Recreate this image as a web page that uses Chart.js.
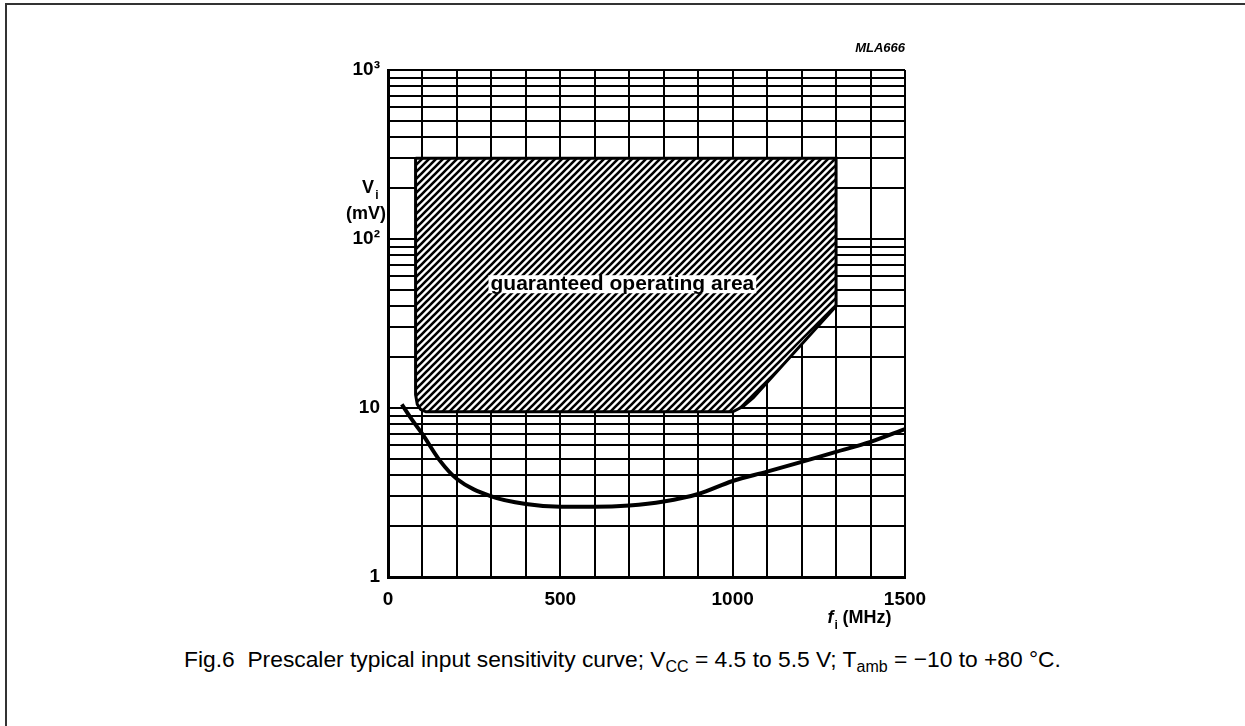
<!DOCTYPE html>
<html>
<head>
<meta charset="utf-8">
<script src="https://cdn.jsdelivr.net/npm/chart.js@4.4.1/dist/chart.umd.min.js"></script>
<style>
  html, body { margin: 0; padding: 0; background: #fff; }
  body { width: 1245px; height: 726px; position: relative; overflow: hidden; font-family: "Liberation Sans", Arial, sans-serif; }
  #frame { position: absolute; left: 5px; top: 3px; width: 1245px; height: 726px; border-top: 2px solid #333; border-left: 2px solid #333; }
  #wrap { position: absolute; left: 0; top: 0; width: 1245px; height: 640px; }
  #caption { position: absolute; top: 646px; left: 0; width: 1245px; text-align: center; font-size: 22.8px; color: #000; }
  #caption sub { font-size: 16px; vertical-align: -5px; line-height: 0; }
</style>
</head>
<body>
<div id="frame"></div>
<div id="wrap"><canvas id="myChart" width="1245" height="640"></canvas></div>
<div id="caption">Fig.6&nbsp; Prescaler typical input sensitivity curve; V<sub>CC</sub> = 4.5 to 5.5 V; T<sub>amb</sub> = &minus;10 to +80 &deg;C.</div>
<script>
// typical sensitivity curve (MHz, mV)
const curveF = [40, 70, 100, 150, 200, 300, 400, 500, 600, 700, 800, 900, 1000, 1100, 1200, 1300, 1400, 1500];
const curveV = [10.5, 8.5, 7, 4.9, 3.8, 3.0, 2.7, 2.6, 2.6, 2.65, 2.8, 3.1, 3.7, 4.2, 4.8, 5.5, 6.3, 7.5];

// guaranteed operating area outline (MHz, mV)
const areaF = [80, 1300, 1300, 1060, 1030, 1000, 110, 95, 85, 80, 80];
const areaV = [300, 300, 40, 11.5, 10.2, 9.5, 9.5, 9.8, 10.5, 12, 300];

// axis ticks
const yTicks = [1, 2, 3, 4, 5, 6, 7, 8, 9, 10, 20, 30, 40, 50, 60, 70, 80, 90, 100, 200, 300, 400, 500, 600, 700, 800, 900, 1000];
const yLabels = { 1: "1", 10: "10", 100: "10\u00b2", 1000: "10\u00b3" };
const xLabels = [0, 500, 1000, 1500];

function hatch() {
    const n = 7;
    const c = document.createElement("canvas");
    c.width = n;
    c.height = n;
    const g = c.getContext("2d");
    g.fillStyle = "#fff";
    g.fillRect(0, 0, n, n);
    g.strokeStyle = "#000";
    g.lineWidth = 2.6;
    g.beginPath();
    g.moveTo(-1, 1); g.lineTo(1, -1);
    g.moveTo(0, n); g.lineTo(n, 0);
    g.moveTo(n - 1, n + 1); g.lineTo(n + 1, n - 1);
    g.stroke();
    return g.createPattern(c, "repeat");
}

const FONT = "'Liberation Sans', Arial, sans-serif";

const notes = {
    id: "notes",
    afterDatasetsDraw(chart) {
        const { ctx, chartArea } = chart;
        const x = chart.scales.x, y = chart.scales.y;
        ctx.save();

        // label inside hatched area
        ctx.font = "bold 21px " + FONT;
        ctx.textAlign = "center";
        ctx.textBaseline = "middle";
        const tx = x.getPixelForValue(680), ty = y.getPixelForValue(54);
        const w = ctx.measureText("guaranteed operating area").width;
        ctx.fillStyle = "#fff";
        ctx.fillRect(tx - w / 2 - 2, ty - 9, w + 4, 18);
        ctx.fillStyle = "#000";
        ctx.fillText("guaranteed operating area", tx, ty);

        // y title
        ctx.font = "bold 18px " + FONT;
        ctx.textAlign = "center";
        ctx.fillText("V", chartArea.left - 20, 188);
        ctx.font = "bold 12px " + FONT;
        ctx.fillText("i", chartArea.left - 11, 196);
        ctx.font = "bold 18px " + FONT;
        ctx.fillText("(mV)", chartArea.left - 22, 214);

        // x title
        const fx = x.getPixelForValue(1275), fy = chartArea.bottom + 41;
        ctx.textAlign = "left";
        ctx.font = "bold italic 18px " + FONT;
        ctx.fillText("f", fx, fy);
        ctx.font = "bold 12px " + FONT;
        ctx.fillText("i", fx + 7, fy + 8);
        ctx.font = "bold 18px " + FONT;
        ctx.fillText("(MHz)", fx + 15, fy);

        // figure code
        ctx.textAlign = "right";
        ctx.font = "bold italic 13px " + FONT;
        ctx.fillText("MLA666", chartArea.right, chartArea.top - 22);
        ctx.restore();
    }
};

const data = {
    datasets: [
        {
            label: "guaranteed operating area",
            data: areaF.map((f, i) => ({ x: f, y: areaV[i] })),
            showLine: true,
            borderColor: "#000",
            borderWidth: 3,
            backgroundColor: hatch(),
            fill: "shape",
            pointRadius: 0,
            tension: 0,
        },
        {
            label: "typical",
            data: curveF.map((f, i) => ({ x: f, y: curveV[i] })),
            showLine: true,
            borderColor: "#000",
            borderWidth: 4,
            fill: false,
            pointRadius: 0,
            cubicInterpolationMode: "monotone",
        },
    ],
};

const config = {
    type: "scatter",
    data: data,
    options: {
        responsive: false,
        animation: false,
        events: [],
        layout: { padding: { left: 338, top: 70, right: 340, bottom: 29 } },
        plugins: { legend: { display: false }, tooltip: { enabled: false } },
        scales: {
            x: {
                type: "linear",
                min: 0,
                max: 1500,
                afterFit: (s) => { s.height = 34; s.paddingLeft = 0; s.paddingRight = 0; },
                ticks: {
                    stepSize: 100,
                    autoSkip: false,
                    maxRotation: 0,
                    padding: 11,
                    color: "#000",
                    font: { family: FONT, size: 19, weight: "bold" },
                    callback: (v) => (xLabels.includes(v) ? String(v) : ""),
                },
                grid: { color: "#000", lineWidth: 2, drawTicks: false },
                border: { color: "#000", width: 3 },
            },
            y: {
                type: "logarithmic",
                min: 1,
                max: 1000,
                afterFit: (s) => { s.width = 50; s.paddingTop = 0; s.paddingBottom = 0; },
                afterBuildTicks: (s) => { s.ticks = yTicks.map((v) => ({ value: v })); },
                ticks: {
                    autoSkip: false,
                    padding: 8,
                    color: "#000",
                    font: { family: FONT, size: 19, weight: "bold" },
                    callback: (v) => yLabels[v] || "",
                },
                grid: { color: "#000", lineWidth: 2, drawTicks: false },
                border: { color: "#000", width: 3 },
            },
        },
    },
    plugins: [notes],
};

new Chart(document.getElementById("myChart"), config);
</script>
</body>
</html>
